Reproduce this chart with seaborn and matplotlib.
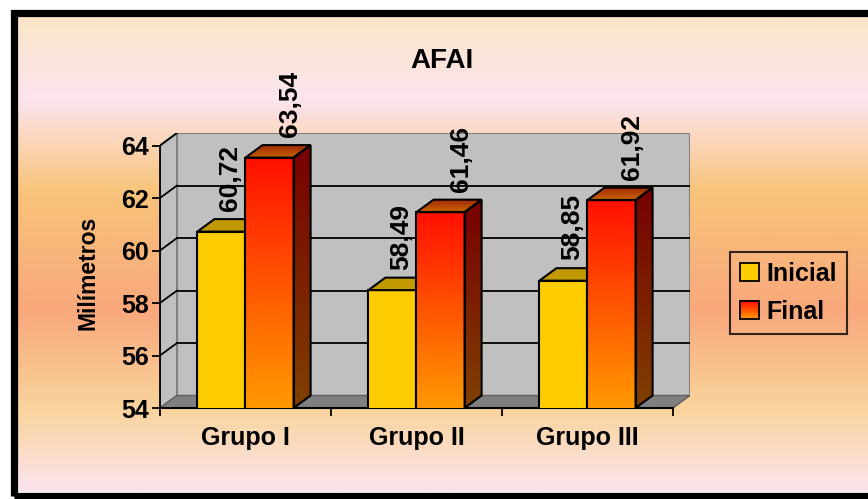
import numpy as np
import pandas as pd
import seaborn as sns
import matplotlib.pyplot as plt
from matplotlib.colors import LinearSegmentedColormap
from matplotlib.patches import Polygon, Rectangle
from matplotlib.legend_handler import HandlerBase

# data
grupos = ["Grupo I", "Grupo II", "Grupo III"]
momentos = ["Inicial", "Final"]
inicial = [60.72, 58.49, 58.85]
final = [63.54, 61.46, 61.92]
y_ticks = [54, 56, 58, 60, 62, 64]

df = pd.DataFrame({
    "grupo": grupos * 2,
    "momento": ["Inicial"] * 3 + ["Final"] * 3,
    "valor": inicial + final,
})

sns.set_theme(style="white")
plt.rcParams["font.family"] = ["Liberation Sans", "DejaVu Sans"]
plt.rcParams["text.color"] = "black"
plt.rcParams["axes.labelcolor"] = "black"
plt.rcParams["xtick.color"] = "black"
plt.rcParams["ytick.color"] = "black"

W, H = 868, 499
fig = plt.figure(figsize=(W / 100, H / 100), dpi=100, facecolor="white")

# background gradient inside the black frame
bg = fig.add_axes([17 / W, 7 / H, (W - 17) / W, 476 / H])
bg_cmap = LinearSegmentedColormap.from_list("bg", [
    (0.0, "#FAE6C8"), (0.176, "#FCE4EE"), (0.366, "#F8C47A"),
    (0.618, "#F8A87C"), (0.828, "#F9D49C"), (1.0, "#FCE4EE")])
bg.imshow(np.linspace(0, 1, 400).reshape(-1, 1), cmap=bg_cmap, aspect="auto",
          extent=[0, 1, 0, 1], origin="upper")
bg.set_axis_off()

# black frame
fig.patches.append(Rectangle((13.5 / W, 3.5 / H), 1.0, (H - 16) / H,
                             transform=fig.transFigure, fill=False,
                             edgecolor="black", linewidth=5.2, clip_on=False))

# main axes: front axis 160..672 px, floor at y=408 px, back wall top at 133 px
ymin, ymax = 54, 64
dx = 17 * 3 / 512.0          # depth in category units
dy = 12.5 / 26.25            # depth in data units
ax = fig.add_axes([160 / W, (H - 408) / H, 530 / W, 275 / H])
ax.set_facecolor("none")

sns.barplot(data=df, x="grupo", y="valor", hue="momento", hue_order=momentos,
            palette={"Inicial": "#FFCC00", "Final": "#FF1100"}, width=0.5625,
            saturation=1, edgecolor="black", linewidth=1.5, legend=False, ax=ax,
            zorder=3)

x0, x1 = -0.5, 2.5

# walls and floor
ax.add_patch(Polygon([(x0 + dx, ymin + dy), (x1 + dx, ymin + dy), (x1 + dx, ymax + dy),
                      (x0 + dx, ymax + dy)], closed=True, facecolor="#C0C0C0",
                     edgecolor="#808080", linewidth=1.5, zorder=0.5))
ax.add_patch(Polygon([(x0, ymin), (x0, ymax), (x0 + dx, ymax + dy), (x0 + dx, ymin + dy)],
                     closed=True, facecolor="#C0C0C0", edgecolor="#808080",
                     linewidth=1.5, zorder=0.6))
ax.add_patch(Polygon([(x0, ymin), (x1, ymin), (x1 + dx, ymin + dy), (x0 + dx, ymin + dy)],
                     closed=True, facecolor="#808080", edgecolor="#606060",
                     linewidth=1, zorder=0.7))
for t in y_ticks[1:-1]:
    ax.plot([x0 + dx, x1 + dx], [t + dy, t + dy], color="black", lw=1.3, zorder=0.8)
for t in y_ticks[1:]:
    ax.plot([x0, x0 + dx], [t, t + dy], color="black", lw=1.3, zorder=0.8)


def grad(poly, c_bottom, c_top, ylo, yhi, z):
    xs = [p[0] for p in poly.get_xy()]
    cm = LinearSegmentedColormap.from_list("g", [c_bottom, c_top])
    im = ax.imshow(np.linspace(0, 1, 200).reshape(-1, 1), cmap=cm, aspect="auto",
                   extent=[min(xs), max(xs), ylo, yhi], origin="lower", zorder=z)
    im.set_clip_path(poly)


for k, cont in enumerate(ax.containers):
    for bar, v in zip(cont.patches, [inicial, final][k]):
        bx0 = bar.get_x()
        bx1 = bx0 + bar.get_width()
        z = 3 + k
        bar.set_zorder(z + 0.2)
        top = Polygon([(bx0, v), (bx1, v), (bx1 + dx, v + dy), (bx0 + dx, v + dy)],
                      closed=True, edgecolor="black", linewidth=1.5, zorder=z + 0.2)
        side = Polygon([(bx1, ymin), (bx1 + dx, ymin + dy), (bx1 + dx, v + dy), (bx1, v)],
                       closed=True, edgecolor="black", linewidth=1.5, zorder=z + 0.2)
        if k == 0:
            top.set_facecolor("#C09A00")
            side.set_facecolor("#A08000")
            ax.add_patch(side)
            ax.add_patch(top)
        else:
            top.set_facecolor("none")
            side.set_facecolor("none")
            ax.add_patch(side)
            ax.add_patch(top)
            bar.set_facecolor("none")
            front = Polygon([(bx0, ymin), (bx1, ymin), (bx1, v), (bx0, v)], closed=True,
                            transform=ax.transData)
            grad(front, "#FF9900", "#FF1000", ymin, v, z)
            grad(top, "#C86400", "#A02800", v, v + dy, z)
            grad(side, "#804000", "#780000", ymin, v + dy, z)
        lx = bx0 + bar.get_width() / 2 + dx * (0.5 if k == 0 else 1.2)
        ax.text(lx, v + dy + 0.3, f"{v:.2f}".replace(".", ","), rotation=90,
                ha="center", va="bottom", fontsize=19, fontweight="bold",
                color="black", zorder=6, clip_on=False)

ax.set_xlim(x0, x1 + dx)
ax.set_ylim(ymin, ymax + dy)

# axes, ticks and labels
for s in ["top", "right"]:
    ax.spines[s].set_visible(False)
ax.spines["left"].set_bounds(ymin, ymax)
ax.spines["bottom"].set_bounds(x0, x1)
ax.spines["left"].set_color("black")
ax.spines["bottom"].set_color("black")
ax.spines["left"].set_linewidth(1.3)
ax.spines["bottom"].set_linewidth(1.5)
ax.set_yticks(y_ticks)
ax.set_yticklabels([str(t) for t in y_ticks], fontsize=18, fontweight="bold")
ax.tick_params(axis="y", direction="out", length=6, width=1.3, color="black",
               pad=2, left=True)
ax.set_xticks([0, 1, 2])
ax.set_xticklabels(grupos, fontsize=18, fontweight="bold")
ax.set_xticks([-0.5, 0.5, 1.5, 2.5], minor=True)
ax.tick_params(axis="x", which="major", length=0, pad=13)
ax.tick_params(axis="x", which="minor", direction="out", length=6, width=1.3,
               color="black", bottom=True)
ax.set_xlabel("")
ax.set_ylabel("")
ax.grid(False)

fig.text(442 / W, 1 - 61 / H, "AFAI", ha="center", va="center", fontsize=20,
         fontweight="bold")
fig.text(88 / W, 1 - 273 / H, "Milímetros", ha="center", va="center", rotation=90,
         fontsize=16.5, fontweight="bold")


# legend with a gradient swatch for "Final"
class GradHandler(HandlerBase):
    def create_artists(self, legend, orig, xd, yd, width, height, fontsize, trans):
        arts = []
        n = 12
        cm = LinearSegmentedColormap.from_list("l", ["#FF9900", "#FF1000"])
        for i in range(n):
            arts.append(Rectangle((-xd, -yd + height * i / n), width, height / n + 0.3,
                                  facecolor=cm(i / (n - 1)), edgecolor="none",
                                  transform=trans))
        arts.append(Rectangle((-xd, -yd), width, height, facecolor="none",
                              edgecolor="black", linewidth=1.3, transform=trans))
        return arts


h_ini = Rectangle((0, 0), 1, 1, facecolor="#FFCC00", edgecolor="black", linewidth=1.3)
h_fin = Rectangle((0, 0), 1, 1, facecolor="#FF5500", edgecolor="black", linewidth=1.3)
leg = fig.legend([h_ini, h_fin], momentos, loc="upper left",
                 bbox_to_anchor=(730 / W, 1 - 252 / H), frameon=True, fancybox=False,
                 handler_map={h_fin: GradHandler()}, handlelength=0.75,
                 handleheight=0.75, handletextpad=0.3, labelspacing=0.55,
                 borderpad=0.4, borderaxespad=0,
                 prop={"size": 18, "weight": "bold"})
leg.get_frame().set_facecolor("none")
leg.get_frame().set_edgecolor("black")
leg.get_frame().set_linewidth(1.5)

fig.savefig("out.png", dpi=100, facecolor="white")
